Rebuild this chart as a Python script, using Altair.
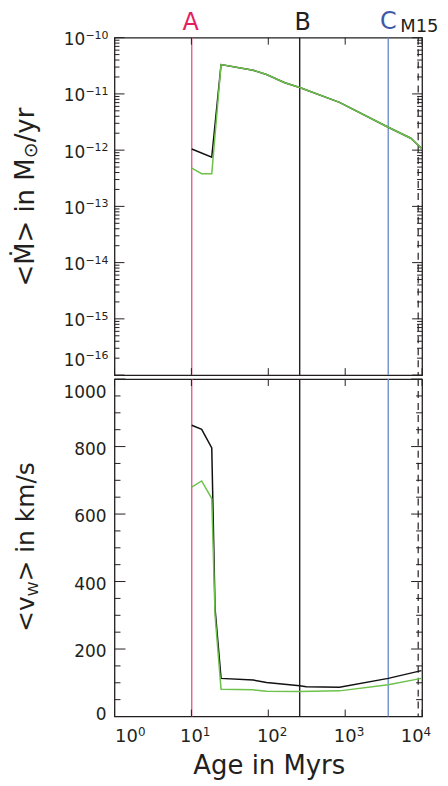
import altair as alt
import pandas as pd

FONT = "DejaVu Sans"
INK = "#231f20"
W, H = 309, 339

# ---------- x axis (age in Myr) ----------
x_ticks = [1, 10, 100, 1000, 10000]
x_exps = ["0", "1", "2", "3", "4"]
x_label_dx = [12, 0, 0, 0, -10]

# ---------- top panel: <Mdot> ----------
mdot_ticks = [1e-16, 1e-15, 1e-14, 1e-13, 1e-12, 1e-11, 1e-10]
mdot_exps = ["−16", "−15", "−14", "−13", "−12", "−11", "−10"]
mdot_label_dy = [-17, 0, 0, 0, 0, 0, 0]
minor_mult = [2, 3, 4, 5, 6, 7, 8, 9]
mdot_minor = [m * t for t in mdot_ticks[:-1] for m in minor_mult]

age_black_top = [10.1, 18.4, 24.3, 63.6, 94.7, 164, 256, 843, 3630, 7130, 9800]
mdot_black = [1.05e-12, 7.5e-13, 3.33e-11, 2.64e-11, 2.21e-11, 1.58e-11, 1.30e-11,
              7.06e-12, 2.55e-12, 1.63e-12, 1.08e-12]
age_green_top = [10.1, 13.6, 18.4, 24.3, 63.6, 94.7, 164, 256, 843, 3630, 7130, 9800]
mdot_green = [4.8e-13, 3.8e-13, 3.8e-13, 3.33e-11, 2.64e-11, 2.21e-11, 1.58e-11,
              1.30e-11, 7.06e-12, 2.55e-12, 1.63e-12, 1.08e-12]

# ---------- bottom panel: <v_W> ----------
vw_ticks = [0, 200, 400, 600, 800, 1000]
vw_labels = ["0", "200", "400", "600", "800", "1000"]
vw_label_dy = [-1.5, 3, 3, 3, 3, 14]
vw_minor = [50, 100, 150, 250, 300, 350, 450, 500, 550, 650, 700, 750, 850, 900, 950]
age_black_bot = [10.1, 13.6, 18.4, 20.3, 24.3, 63.6, 94.7, 256, 312, 843, 3630, 9800]
vw_black = [863, 851, 796, 320, 113, 108, 101, 91, 88, 87, 113, 136]
age_green_bot = [10.1, 13.6, 18.4, 20.3, 24.3, 63.6, 94.7, 256, 843, 3630, 9800]
vw_green = [680, 698, 646, 300, 81, 79, 75, 74, 76, 94, 113]

# ---------- epoch markers ----------
marker_names = ["A", "B", "C", "M15"]
marker_ages = [10.1, 256, 3630, 8900]
marker_line_colors = ["#e65f8c", INK, "#6f8fcc", INK]
marker_text_colors = ["#e41d5f", INK, "#3c5aa8", INK]
marker_font_sizes = [24, 24, 24, 18]
marker_align = ["center", "center", "center", "left"]
marker_dx = [-1, 3, 0, -18]
marker_y = [-8, -8, -9, -6]

GREEN = "#6cc24a"


def x_scale():
    return alt.Scale(type="log", domain=[1, 10000], nice=False)


def vert_rules(xs):
    df = pd.DataFrame({"age": marker_ages[:3], "c": marker_line_colors[:3]})
    solid = alt.Chart(df).mark_rule(strokeWidth=1.4).encode(
        x=alt.X("age:Q", scale=xs, axis=None),
        color=alt.Color("c:N", scale=None),
    )
    dashed = alt.Chart(pd.DataFrame({"age": marker_ages[3:]})).mark_rule(
        strokeWidth=1.2, strokeDash=[7, 5], color=INK
    ).encode(x=alt.X("age:Q", scale=xs, axis=None))
    return [solid, dashed]


def y_tick_rules(vals, ys, length):
    df = pd.DataFrame({"v": vals})
    left = alt.Chart(df).mark_rule(color=INK, strokeWidth=1).encode(
        y=alt.Y("v:Q", scale=ys, axis=None), x=alt.value(0), x2=alt.value(length))
    right = alt.Chart(df).mark_rule(color=INK, strokeWidth=1).encode(
        y=alt.Y("v:Q", scale=ys, axis=None), x=alt.value(W - length), x2=alt.value(W))
    return [left, right]


def x_tick_rules(xs, length=7):
    df = pd.DataFrame({"v": x_ticks})
    top = alt.Chart(df).mark_rule(color=INK, strokeWidth=1).encode(
        x=alt.X("v:Q", scale=xs, axis=None), y=alt.value(0), y2=alt.value(length))
    bot = alt.Chart(df).mark_rule(color=INK, strokeWidth=1).encode(
        x=alt.X("v:Q", scale=xs, axis=None), y=alt.value(H - length), y2=alt.value(H))
    return [top, bot]


def one(v, s, enc_field, scale, **mk):
    """single-row text mark positioned on a scale."""
    df = pd.DataFrame({"v": [v], "l": [s]})
    ch = alt.Chart(df).mark_text(font=FONT, color=INK, **mk)
    if enc_field == "y":
        return ch.encode(y=alt.Y("v:Q", scale=scale, axis=None), text="l:N")
    return ch.encode(x=alt.X("v:Q", scale=scale, axis=None), text="l:N")


def log_y_labels(ys):
    layers = []
    for v, e, dy in zip(mdot_ticks, mdot_exps, mdot_label_dy):
        layers.append(one(v, "10", "y", ys, align="right", baseline="alphabetic",
                          fontSize=17, dy=7.5 + dy).encode(x=alt.value(-29.5)))
        layers.append(one(v, e, "y", ys, align="right", baseline="alphabetic",
                          fontSize=11, dy=1 + dy).encode(x=alt.value(-6)))
    return layers


def lin_y_labels(ys):
    return [one(v, l, "y", ys, align="right", baseline="middle", fontSize=17, dy=dy)
            .encode(x=alt.value(-8))
            for v, l, dy in zip(vw_ticks, vw_labels, vw_label_dy)]


def log_x_labels(xs):
    layers = []
    for v, e, dx in zip(x_ticks, x_exps, x_label_dx):
        layers.append(one(v, "10", "x", xs, align="center", baseline="alphabetic",
                          fontSize=18, dx=dx).encode(y=alt.value(H + 26)))
        layers.append(one(v, e, "x", xs, align="left", baseline="alphabetic",
                          fontSize=12, dx=dx + 11.5).encode(y=alt.value(H + 20)))
    return layers


def txt(s, x, y, size, color=INK, angle=270, align="left", baseline="alphabetic"):
    return alt.Chart(pd.DataFrame({"t": [s]})).mark_text(
        angle=angle, align=align, baseline=baseline, font=FONT, fontSize=size, color=color
    ).encode(x=alt.value(x), y=alt.value(y), text="t:N")


# ================= top panel =================
xs_t = x_scale()
ys_t = alt.Scale(type="log", domain=[1e-16, 1e-10], nice=False)

df_bt = pd.DataFrame({"age": age_black_top, "v": mdot_black})
df_gt = pd.DataFrame({"age": age_green_top, "v": mdot_green})
black_top = alt.Chart(df_bt).mark_line(color="#111111", strokeWidth=1.5).encode(
    x=alt.X("age:Q", scale=xs_t, axis=None),
    y=alt.Y("v:Q", scale=ys_t, axis=None),
)
green_top = alt.Chart(df_gt).mark_line(color=GREEN, strokeWidth=1.5).encode(
    x=alt.X("age:Q", scale=xs_t, axis=None),
    y=alt.Y("v:Q", scale=ys_t, axis=None),
)

marker_labels = []
for name, age, col, fs, al, dx, yy in zip(marker_names, marker_ages, marker_text_colors,
                                          marker_font_sizes, marker_align, marker_dx,
                                          marker_y):
    marker_labels.append(
        alt.Chart(pd.DataFrame({"age": [age], "n": [name]})).mark_text(
            font=FONT, fontSize=fs, color=col, align=al, baseline="alphabetic", dx=dx
        ).encode(x=alt.X("age:Q", scale=xs_t, axis=None), y=alt.value(yy), text="n:N")
    )

top_title = [
    txt("<Ṁ> in M", -81, 250, 26),
    txt("⊙", -78, 250 - 128.8, 19),
    txt("/yr", -81, 250 - 128.8 - 16.0, 26),
]

top = alt.layer(
    *vert_rules(xs_t),
    *y_tick_rules(mdot_ticks, ys_t, 10),
    *y_tick_rules(mdot_minor, ys_t, 5),
    *x_tick_rules(xs_t),
    black_top, green_top,
    *log_y_labels(ys_t),
    *marker_labels,
    *top_title,
).properties(width=W, height=H)

# ================= bottom panel =================
xs_b = x_scale()
ys_b = alt.Scale(domain=[0, 1000], nice=False, zero=False)

df_bb = pd.DataFrame({"age": age_black_bot, "v": vw_black})
df_gb = pd.DataFrame({"age": age_green_bot, "v": vw_green})
black_bot = alt.Chart(df_bb).mark_line(color="#111111", strokeWidth=1.5).encode(
    x=alt.X("age:Q", scale=xs_b, axis=None),
    y=alt.Y("v:Q", scale=ys_b, axis=None),
)
green_bot = alt.Chart(df_gb).mark_line(color=GREEN, strokeWidth=1.5).encode(
    x=alt.X("age:Q", scale=xs_b, axis=None),
    y=alt.Y("v:Q", scale=ys_b, axis=None),
)

bot_title = [
    txt("<v", -81, 254, 25),
    txt("W", -77, 254 - 35.75, 15),
    txt("> in km/s", -81, 254 - 35.75 - 14.8, 25),
]

x_title = txt("Age in Myrs", W / 2 + 1, H + 58, 26, angle=0, align="center")

bottom = alt.layer(
    *vert_rules(xs_b),
    *y_tick_rules(vw_ticks, ys_b, 11),
    *y_tick_rules(vw_minor, ys_b, 6),
    *x_tick_rules(xs_b),
    black_bot, green_bot,
    *lin_y_labels(ys_b),
    *log_x_labels(xs_b),
    *bot_title,
    x_title,
).properties(width=W, height=H)

chart = alt.vconcat(top, bottom, spacing=0).properties(
    padding={"left": 4, "top": -1, "right": 0, "bottom": 2}
).configure_view(stroke=INK, strokeWidth=1.3)

chart.save("out.html", embed_options={"renderer": "svg", "actions": False})
